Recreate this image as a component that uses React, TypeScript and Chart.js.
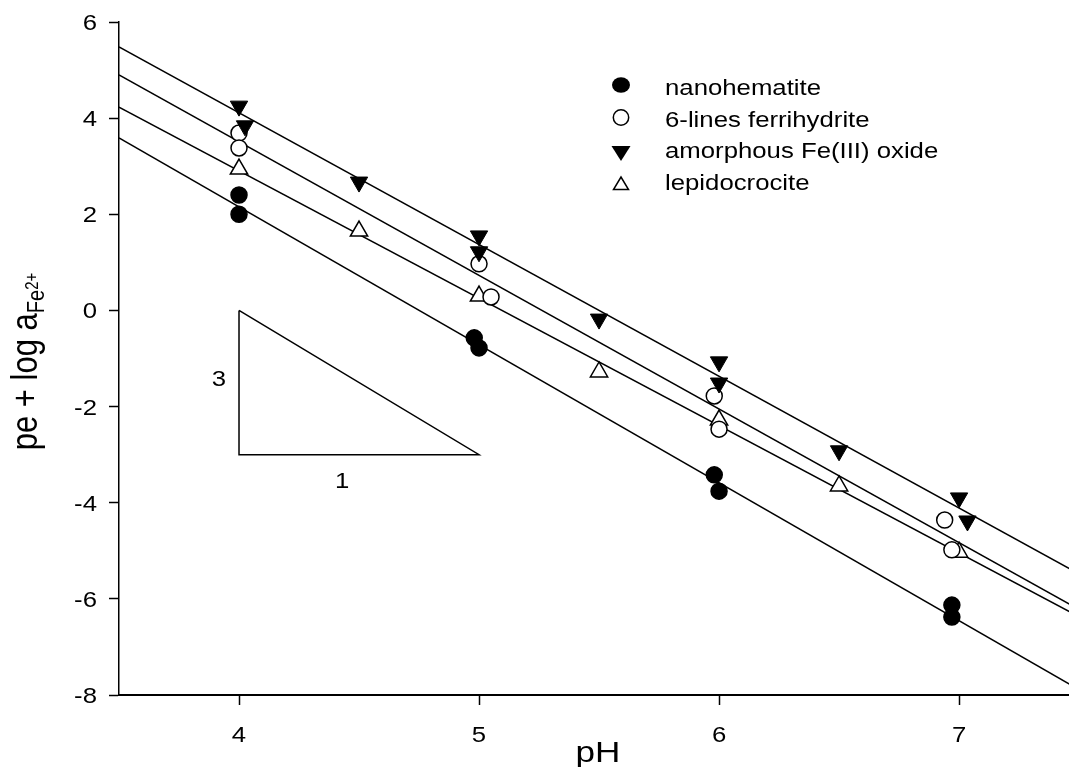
import { useEffect, useRef } from 'react';
import { Chart, registerables } from 'chart.js';

Chart.register(...registerables);

const FONT = '"Liberation Sans", Arial, sans-serif';
const STRETCH = 1.17; // the reference text is drawn a little wide

// x ticks / y ticks
const xTicks = [4, 5, 6, 7];
const yTicks = [-8, -6, -4, -2, 0, 2, 4, 6];

// nanohematite (filled circles)
const nanoX = [4.0, 4.0, 4.98, 5.0, 5.98, 6.0, 6.97, 6.97];
const nanoY = [2.4, 2.0, -0.57, -0.78, -3.42, -3.76, -6.13, -6.38];

// 6-lines ferrihydrite (open circles)
const ferriX = [4.0, 4.0, 5.0, 5.05, 5.98, 6.0, 6.94, 6.97];
const ferriY = [3.69, 3.38, 0.97, 0.28, -1.78, -2.47, -4.36, -4.98];

// amorphous Fe(III) oxide (filled inverted triangles)
const amorphX = [4.0, 4.025, 4.5, 5.0, 5.0, 5.5, 6.0, 6.0, 6.5, 7.0, 7.035];
const amorphY = [4.25, 3.84, 2.67, 1.55, 1.22, -0.18, -1.07, -1.51, -2.92, -3.9, -4.38];

// lepidocrocite (open triangles)
const lepidoX = [4.0, 4.5, 5.0, 5.5, 6.0, 6.5, 7.0];
const lepidoY = [2.94, 1.65, 0.3, -1.28, -2.28, -3.65, -5.03];

// regression lines, end points at pH 3.5 and 7.5
const fitX = [3.5, 7.5];
const nanoFit = [3.59, -7.89];
const ferriFit = [4.9, -6.22];
const amorphFit = [5.48, -5.48];
const lepidoFit = [4.23, -6.37];

// slope triangle (3 : 1)
const slopeX = [4, 4, 5, 4];
const slopeY = [0, -3, -3, 0];

const legendLabels = ['nanohematite', '6-lines ferrihydrite', 'amorphous Fe(III) oxide', 'lepidocrocite'];

const pts = (xs: number[], ys: number[]) => xs.map((x, i) => ({ x, y: ys[i] }));

function wideText(
  ctx: CanvasRenderingContext2D,
  text: string,
  x: number,
  y: number,
  size: number,
  align: CanvasTextAlign,
) {
  ctx.save();
  ctx.translate(x, y);
  ctx.scale(STRETCH, 1);
  ctx.font = `${size}px ${FONT}`;
  ctx.textAlign = align;
  ctx.textBaseline = 'alphabetic';
  ctx.fillText(text, 0, 0);
  ctx.restore();
}

export default function App() {
  const ref = useRef<HTMLCanvasElement>(null);

  useEffect(() => {
    document.body.style.margin = '0';
    const canvas = ref.current!;
    const lineDs = (data: number[]) => ({
      data: pts(fitX, data),
      showLine: true,
      borderColor: '#000',
      borderWidth: 1.5,
      pointRadius: 0,
      order: 10,
    });
    const textPlugin = {
      id: 'texts',
      afterDraw(chart: any) {
        const ctx = chart.ctx as CanvasRenderingContext2D;
        const xs = chart.scales.x;
        const ys = chart.scales.y;
        const area = chart.chartArea;
        ctx.save();
        ctx.fillStyle = '#000';
        ctx.strokeStyle = '#000';
        // tick labels
        xTicks.forEach((v) => wideText(ctx, String(v), xs.getPixelForValue(v), 742, 22, 'center'));
        yTicks.forEach((v) => wideText(ctx, String(v), 97, ys.getPixelForValue(v) + 8, 22, 'right'));
        // slope labels
        wideText(ctx, '3', xs.getPixelForValue(slopeX[0]) - 20, ys.getPixelForValue(-1.41) + 8, 22, 'center');
        wideText(ctx, '1', xs.getPixelForValue(4.43), ys.getPixelForValue(slopeY[1]) + 33, 22, 'center');
        // x title
        wideText(ctx, 'pH', (area.left + area.right) / 2 + 4, 762, 30, 'center');
        // y title with sub/superscript
        ctx.save();
        ctx.translate(37, (area.top + area.bottom) / 2 + 3);
        ctx.rotate(-Math.PI / 2);
        ctx.scale(1, STRETCH);
        ctx.textAlign = 'left';
        ctx.textBaseline = 'alphabetic';
        const main = 'pe + log a';
        ctx.font = `31px ${FONT}`;
        const wMain = ctx.measureText(main).width;
        ctx.font = `20px ${FONT}`;
        const wSub = ctx.measureText('Fe').width;
        ctx.font = `15px ${FONT}`;
        const wSup = ctx.measureText('2+').width;
        const total = wMain + wSub + wSup;
        let cx = -total / 2;
        ctx.font = `31px ${FONT}`;
        ctx.fillText(main, cx, 0);
        cx += wMain;
        ctx.font = `20px ${FONT}`;
        ctx.fillText('Fe', cx, 6);
        cx += wSub;
        ctx.font = `15px ${FONT}`;
        ctx.fillText('2+', cx, 1);
        ctx.restore();
        // legend
        const lx = 621;
        const tx = 665;
        const baselines = [95, 127, 158, 190];
        const markerY = [85, 117.5, 153, 183.5];
        ctx.lineWidth = 1.5;
        legendLabels.forEach((lab, i) => {
          wideText(ctx, lab, tx, baselines[i], 22, 'left');
          const y = markerY[i];
          ctx.beginPath();
          if (i === 0 || i === 1) {
            ctx.ellipse(lx, y, i === 0 ? 9 : 7.7, 7.7, 0, 0, Math.PI * 2);
            if (i === 0) ctx.fill();
            else ctx.stroke();
          } else if (i === 2) {
            ctx.moveTo(lx - 9.5, y - 7);
            ctx.lineTo(lx + 9.5, y - 7);
            ctx.lineTo(lx, y + 8);
            ctx.closePath();
            ctx.fill();
          } else {
            ctx.moveTo(lx - 7.5, y + 6);
            ctx.lineTo(lx + 7.5, y + 6);
            ctx.lineTo(lx, y - 6.5);
            ctx.closePath();
            ctx.stroke();
          }
        });
        ctx.restore();
      },
    };

    const chart = new Chart(canvas, {
      type: 'scatter',
      data: {
        datasets: [
          {
            data: pts(nanoX, nanoY),
            pointStyle: 'circle',
            pointRadius: 8,
            pointBackgroundColor: '#000',
            pointBorderColor: '#000',
            pointBorderWidth: 1.5,
            order: 1,
          },
          {
            data: pts(ferriX, ferriY),
            pointStyle: 'circle',
            pointRadius: 8,
            pointBackgroundColor: '#fff',
            pointBorderColor: '#000',
            pointBorderWidth: 1.5,
            order: 2,
          },
          {
            data: pts(amorphX, amorphY),
            pointStyle: 'triangle',
            rotation: 180,
            pointRadius: 10,
            pointBackgroundColor: '#000',
            pointBorderColor: '#000',
            pointBorderWidth: 1,
            order: 0,
          },
          {
            data: pts(lepidoX, lepidoY),
            pointStyle: 'triangle',
            pointRadius: 10,
            pointBackgroundColor: '#fff',
            pointBorderColor: '#000',
            pointBorderWidth: 1.5,
            order: 3,
          },
          lineDs(nanoFit),
          lineDs(ferriFit),
          lineDs(amorphFit),
          lineDs(lepidoFit),
          {
            data: pts(slopeX, slopeY),
            showLine: true,
            borderColor: '#000',
            borderWidth: 1.5,
            pointRadius: 0,
            order: 11,
          },
        ] as any,
      },
      options: {
        animation: false,
        responsive: false,
        layout: { autoPadding: false, padding: { top: 22, left: 0, right: 0, bottom: 0 } },
        plugins: { legend: { display: false }, tooltip: { enabled: false } },
        scales: {
          x: {
            type: 'linear',
            min: 3.5,
            max: 7.458,
            afterBuildTicks: (s: any) => {
              s.ticks = xTicks.map((v) => ({ value: v }));
            },
            afterFit: (s: any) => {
              s.height = 72;
            },
            grid: { drawOnChartArea: false, tickLength: 10, tickColor: '#000', tickWidth: 1.5 },
            border: { color: '#000', width: 2 },
            ticks: { display: false },
          },
          y: {
            type: 'linear',
            min: -8,
            max: 6,
            afterBuildTicks: (s: any) => {
              s.ticks = yTicks.map((v) => ({ value: v }));
            },
            afterFit: (s: any) => {
              s.width = 119;
            },
            grid: { drawOnChartArea: false, tickLength: 10, tickColor: '#000', tickWidth: 1.5 },
            border: { color: '#000', width: 1.5 },
            ticks: { display: false },
          },
        },
      },
      plugins: [textPlugin],
    });
    return () => chart.destroy();
  }, []);

  return <canvas ref={ref} width={1069} height={767} style={{ display: 'block' }} />;
}
